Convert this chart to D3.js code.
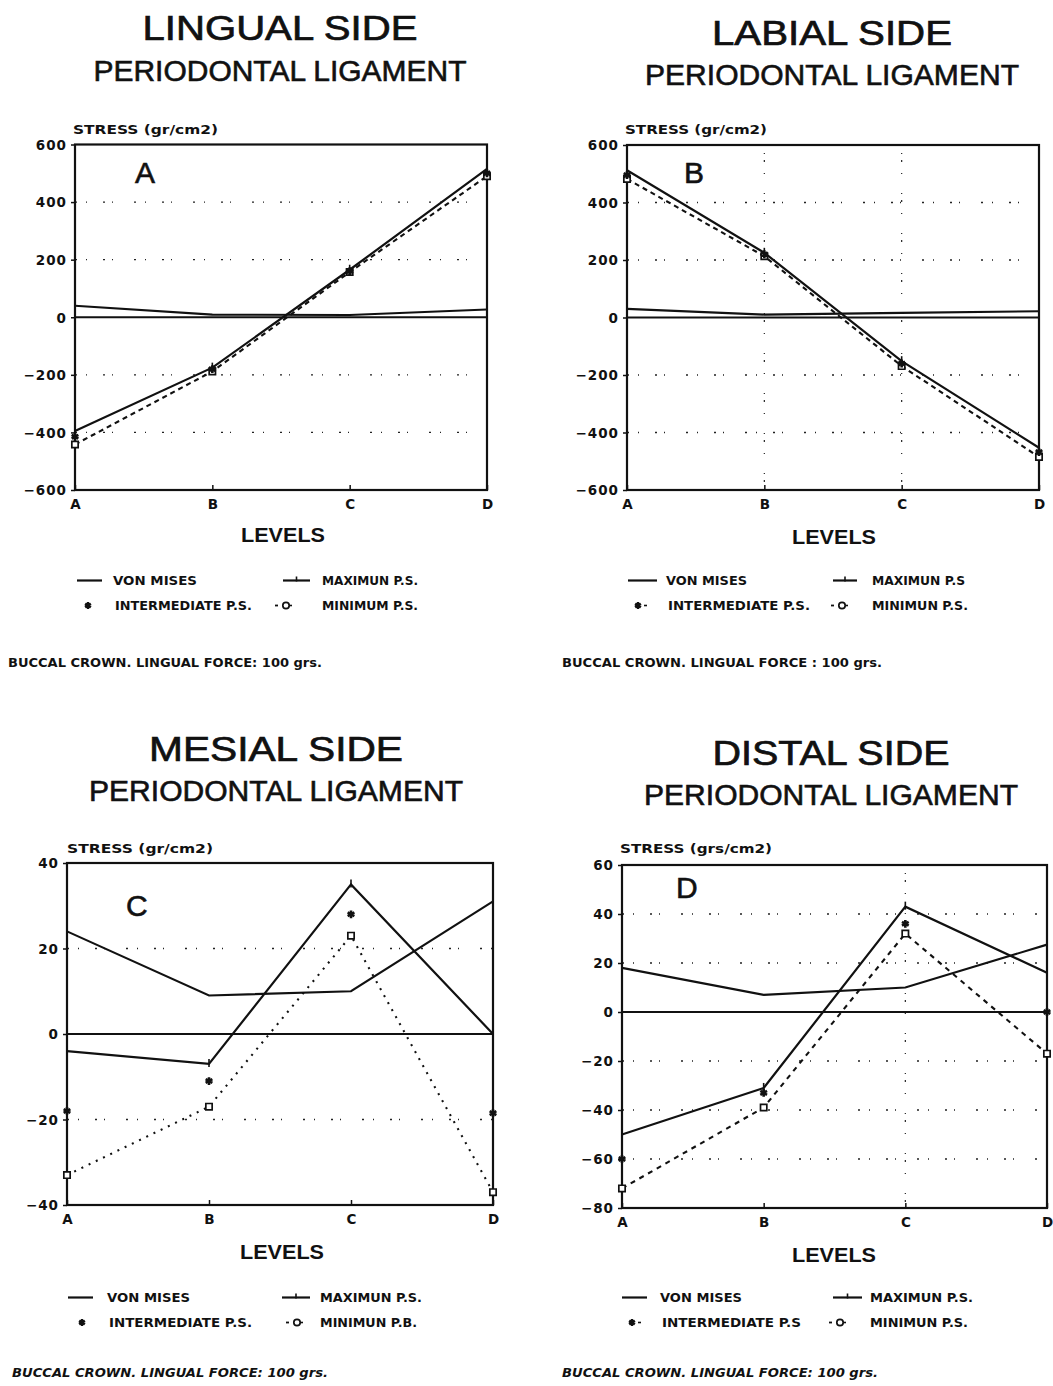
<!DOCTYPE html>
<html>
<head>
<meta charset="utf-8">
<script src="https://cdn.jsdelivr.net/npm/d3@7"></script>
<style>
  html, body { margin: 0; padding: 0; background: #fff; }
  svg { display: block; }
  .small { font-family: "DejaVu Sans", "Liberation Sans", sans-serif; font-weight: bold; fill: #111; }
  .big { font-family: "Liberation Sans", Arial, sans-serif; fill: #111; }
</style>
</head>
<body>
<script>
// Stress in the periodontal ligament at four levels, four tooth sides.
const levels = ["A", "B", "C", "D"];

// Lingual side (gr/cm2)
const lingualVonMises     = [40, 9, 8, 27];
const lingualMaximum      = [-395, -175, 165, 515];
const lingualIntermediate = [-415, -180, 160, 500];
const lingualMinimum      = [-442, -188, 157, 490];
const lingualTicks        = [-600, -400, -200, 0, 200, 400, 600];

// Labial side (gr/cm2)
const labialVonMises     = [30, 10, 16, 22];
const labialMaximum      = [512, 225, -152, -453];
const labialIntermediate = [495, 220, -160, -468];
const labialMinimum      = [482, 213, -169, -485];
const labialTicks        = [-600, -400, -200, 0, 200, 400, 600];

// Mesial side (gr/cm2)
const mesialVonMises     = [24, 9, 10, 31];
const mesialMaximum      = [-4, -7, 35, 0];
const mesialIntermediate = [-18, -11, 28, -18.5];
const mesialMinimum      = [-33, -17, 23, -37];
const mesialTicks        = [-40, -20, 0, 20, 40];

// Distal side (grs/cm2)
const distalVonMises     = [18, 7, 10, 27.5];
const distalMaximum      = [-50, -31, 43, 16];
const distalIntermediate = [-60, -33, 36, 0];
const distalMinimum      = [-72, -39, 32, -17];
const distalTicks        = [-80, -60, -40, -20, 0, 20, 40, 60];

// Text per panel
const panelTitles   = ["LINGUAL SIDE", "LABIAL SIDE", "MESIAL SIDE", "DISTAL SIDE"];
const panelLetters  = ["A", "B", "C", "D"];
const stressLabels  = ["STRESS (gr/cm2)", "STRESS (gr/cm2)", "STRESS (gr/cm2)", "STRESS (grs/cm2)"];
const legendLabels  = [
  ["VON MISES", "MAXIMUN P.S.", "INTERMEDIATE P.S.", "MINIMUM P.S."],
  ["VON MISES", "MAXIMUN P.S", "INTERMEDIATE P.S.", "MINIMUN P.S."],
  ["VON MISES", "MAXIMUN P.S.", "INTERMEDIATE P.S.", "MINIMUN P.B."],
  ["VON MISES", "MAXIMUN P.S.", "INTERMEDIATE P.S", "MINIMUN P.S."]
];
const footnotes = [
  "BUCCAL CROWN. LINGUAL FORCE: 100 grs.",
  "BUCCAL CROWN. LINGUAL FORCE : 100 grs.",
  "BUCCAL CROWN. LINGUAL FORCE: 100 grs.",
  "BUCCAL CROWN. LINGUAL FORCE: 100 grs."
];
const subtitle = "PERIODONTAL LIGAMENT";
const levelsLabel = "LEVELS";

const series = [
  { vm: lingualVonMises, max: lingualMaximum, mid: lingualIntermediate, min: lingualMinimum, ticks: lingualTicks },
  { vm: labialVonMises,  max: labialMaximum,  mid: labialIntermediate,  min: labialMinimum,  ticks: labialTicks },
  { vm: mesialVonMises,  max: mesialMaximum,  mid: mesialIntermediate,  min: mesialMinimum,  ticks: mesialTicks },
  { vm: distalVonMises,  max: distalMaximum,  mid: distalIntermediate,  min: distalMinimum,  ticks: distalTicks }
];

// Layout of each panel on the page
const layouts = [
  { frame: [75, 144.5, 487, 490], tx: 280, ty: 40, tLen: 275, sy: 81, sLen: 373,
    stx: 73, sty: 134, stLen: 145, lx: 135, ly: 183, lvx: 283, lvy: 542,
    fx: 8, fy: 667, fLen: 314, italic: false, vgrid: [], minDash: "5,4",
    leg: { r1: 585, r2: 610, s1: [77, 102], t1: 113, s2: [283, 310], t2: 322, ix: 88, mx: 277, w: [84, 96, 137, 96], midDash: false } },
  { frame: [627, 145, 1039, 490], tx: 832, ty: 45, tLen: 240, sy: 85, sLen: 374,
    stx: 625, sty: 134, stLen: 142, lx: 684, ly: 183, lvx: 834, lvy: 544,
    fx: 562, fy: 667, fLen: 320, italic: false, vgrid: ["B", "C"], minDash: "5,4",
    leg: { r1: 585, r2: 610, s1: [628, 657], t1: 666, s2: [833, 857], t2: 872, ix: 638, mx: 833, w: [81, 93, 142, 96], midDash: true } },
  { frame: [67, 863, 493, 1205], tx: 276, ty: 761, tLen: 254, sy: 801, sLen: 374,
    stx: 67, sty: 853, stLen: 146, lx: 126, ly: 916, lvx: 282, lvy: 1259,
    fx: 12, fy: 1377, fLen: 316, italic: true, vgrid: [], minDash: "2,6",
    leg: { r1: 1302, r2: 1327, s1: [68, 93], t1: 107, s2: [282, 310], t2: 320, ix: 82, mx: 288, w: [83, 102, 143, 97], midDash: false } },
  { frame: [622, 865, 1047, 1208], tx: 831, ty: 765, tLen: 237, sy: 805, sLen: 374,
    stx: 620, sty: 853, stLen: 152, lx: 676, ly: 898, lvx: 834, lvy: 1262,
    fx: 562, fy: 1377, fLen: 316, italic: true, vgrid: ["C"], minDash: "5,5",
    leg: { r1: 1302, r2: 1327, s1: [622, 647], t1: 660, s2: [833, 862], t2: 870, ix: 632, mx: 831, w: [82, 103, 139, 98], midDash: true } }
];

const W = 1053, H = 1386;
const svg = d3.select("body").append("svg")
  .attr("width", W).attr("height", H)
  .attr("viewBox", `0 0 ${W} ${H}`);
svg.append("rect").attr("width", W).attr("height", H).attr("fill", "#fff");

const gridDash = "2,9,1,16,2,7,1,21";

function stretchedText(g, x, y, str, len, cls, size, anchor) {
  return g.append("text")
    .attr("class", cls)
    .attr("x", x).attr("y", y)
    .attr("font-size", size)
    .attr("text-anchor", anchor || "start")
    .attr("textLength", len)
    .attr("lengthAdjust", "spacingAndGlyphs")
    .text(str);
}

series.forEach((s, p) => {
  const L = layouts[p];
  const [x0, y0, x1, y1] = L.frame;
  const g = svg.append("g");

  const x = d3.scalePoint().domain(levels).range([x0, x1]);
  const y = d3.scaleLinear().domain(d3.extent(s.ticks)).range([y1, y0]);

  // Titles
  stretchedText(g, L.tx - L.tLen / 2, L.ty, panelTitles[p], L.tLen, "big", 35)
    .attr("stroke", "#111").attr("stroke-width", 0.7);
  stretchedText(g, L.tx - L.sLen / 2, L.sy, subtitle, L.sLen, "big", 29.5)
    .attr("stroke", "#111").attr("stroke-width", 0.6);

  // Y axis caption
  stretchedText(g, L.stx, L.sty, stressLabels[p], L.stLen, "small", 13);

  // Dotted grid
  s.ticks.filter(t => t !== 0 && t !== s.ticks[0] && t !== s.ticks[s.ticks.length - 1]).forEach(t => {
    g.append("line")
      .attr("x1", x0).attr("x2", x1).attr("y1", y(t)).attr("y2", y(t))
      .attr("stroke", "#222").attr("stroke-width", 1.3)
      .attr("stroke-dasharray", gridDash);
  });
  L.vgrid.forEach(lv => {
    g.append("line")
      .attr("x1", x(lv)).attr("x2", x(lv)).attr("y1", y0 + 8).attr("y2", y1)
      .attr("stroke", "#222").attr("stroke-width", 1.2)
      .attr("stroke-dasharray", "1,6,2,11,1,19");
  });

  // Zero reference line
  g.append("line")
    .attr("x1", x0).attr("x2", x1).attr("y1", y(0)).attr("y2", y(0))
    .attr("stroke", "#111").attr("stroke-width", 1.8);

  // Axes
  const yAxis = g.append("g")
    .attr("transform", `translate(${x0},0)`)
    .call(d3.axisLeft(y).tickValues(s.ticks).tickSize(4).tickPadding(4).tickFormat(d3.format("d")));
  yAxis.select(".domain").remove();
  yAxis.selectAll("line").attr("stroke", "#111").attr("stroke-width", 1.5);
  yAxis.selectAll("text")
    .attr("class", "small").attr("font-size", 13.5)
    .attr("letter-spacing", "1px").attr("dy", "0.36em");

  const xAxis = g.append("g")
    .attr("transform", `translate(0,${y1})`)
    .call(d3.axisBottom(x).tickSizeInner(-5).tickSizeOuter(0).tickPadding(9));
  xAxis.select(".domain").remove();
  xAxis.selectAll("line").attr("stroke", "#111").attr("stroke-width", 1.5);
  xAxis.selectAll("text").attr("class", "small").attr("font-size", 13.5);

  // Frame
  g.append("rect")
    .attr("x", x0).attr("y", y0).attr("width", x1 - x0).attr("height", y1 - y0)
    .attr("fill", "none").attr("stroke", "#111").attr("stroke-width", 2.2);

  // Panel letter
  g.append("text").attr("class", "big").attr("font-size", 30)
    .attr("stroke", "#111").attr("stroke-width", 0.6)
    .attr("x", L.lx).attr("y", L.ly).text(panelLetters[p]);

  const line = d3.line().x((d, i) => x(levels[i])).y(d => y(d));

  // Von Mises
  g.append("path").attr("d", line(s.vm))
    .attr("fill", "none").attr("stroke", "#111").attr("stroke-width", 2.1);
  // Maximum principal stress
  g.append("path").attr("d", line(s.max))
    .attr("fill", "none").attr("stroke", "#111").attr("stroke-width", 2.2);
  g.selectAll(null).data(s.max).join("line")
    .attr("x1", (d, i) => x(levels[i])).attr("x2", (d, i) => x(levels[i]))
    .attr("y1", d => y(d) - 5).attr("y2", d => y(d) + 3)
    .attr("stroke", "#111").attr("stroke-width", 1.6);
  // Minimum principal stress
  g.append("path").attr("d", line(s.min))
    .attr("fill", "none").attr("stroke", "#111").attr("stroke-width", 2.1)
    .attr("stroke-dasharray", L.minDash);
  g.selectAll(null).data(s.min).join("path")
    .attr("transform", (d, i) => `translate(${x(levels[i])},${y(d)})`)
    .attr("d", d3.symbol(d3.symbolSquare, 40)())
    .attr("fill", "#fff").attr("stroke", "#111").attr("stroke-width", 1.7);
  // Intermediate principal stress
  g.selectAll(null).data(s.mid).join("path")
    .attr("transform", (d, i) => `translate(${x(levels[i])},${y(d)})`)
    .attr("d", d3.symbol(d3.symbolAsterisk, 42)())
    .attr("fill", "none").attr("stroke", "#111").attr("stroke-width", 2.6);

  // Levels caption
  g.append("text").attr("class", "big").attr("font-size", 21)
    .attr("x", L.lvx - 42).attr("y", L.lvy)
    .attr("textLength", 84).attr("lengthAdjust", "spacingAndGlyphs")
    .attr("font-weight", "bold")
    .text(levelsLabel);

  // Legend
  const lg = L.leg, labs = legendLabels[p];
  const r1m = lg.r1 - 4.5, r2m = lg.r2 - 4.5;
  g.append("line").attr("x1", lg.s1[0]).attr("x2", lg.s1[1]).attr("y1", r1m).attr("y2", r1m)
    .attr("stroke", "#111").attr("stroke-width", 2.2);
  stretchedText(g, lg.t1, lg.r1, labs[0], lg.w[0], "small", 13);

  g.append("line").attr("x1", lg.s2[0]).attr("x2", lg.s2[1]).attr("y1", r1m).attr("y2", r1m)
    .attr("stroke", "#111").attr("stroke-width", 2.2);
  const mxm = (lg.s2[0] + lg.s2[1]) / 2;
  g.append("line").attr("x1", mxm).attr("x2", mxm).attr("y1", r1m - 4).attr("y2", r1m + 1)
    .attr("stroke", "#111").attr("stroke-width", 1.6);
  stretchedText(g, lg.t2, lg.r1, labs[1], lg.w[1], "small", 13);

  g.append("path").attr("transform", `translate(${lg.ix},${r2m})`)
    .attr("d", d3.symbol(d3.symbolAsterisk, 32)())
    .attr("fill", "none").attr("stroke", "#111").attr("stroke-width", 2.5);
  if (lg.midDash) {
    g.append("line").attr("x1", lg.ix + 6).attr("x2", lg.ix + 9).attr("y1", r2m).attr("y2", r2m)
      .attr("stroke", "#111").attr("stroke-width", 1.6);
  }
  stretchedText(g, lg.t1 + 2, lg.r2, labs[2], lg.w[2], "small", 13);

  g.append("line").attr("x1", lg.mx - 2).attr("x2", lg.mx + 1).attr("y1", r2m).attr("y2", r2m)
    .attr("stroke", "#111").attr("stroke-width", 1.8);
  g.append("circle").attr("cx", lg.mx + 9).attr("cy", r2m).attr("r", 3.2)
    .attr("fill", "#fff").attr("stroke", "#111").attr("stroke-width", 1.7);
  g.append("line").attr("x1", lg.mx + 12).attr("x2", lg.mx + 15).attr("y1", r2m).attr("y2", r2m)
    .attr("stroke", "#111").attr("stroke-width", 1.6);
  stretchedText(g, lg.t2, lg.r2, labs[3], lg.w[3], "small", 13);

  // Footnote
  const f = stretchedText(g, L.fx, L.fy, footnotes[p], L.fLen, "small", 12);
  if (L.italic) f.attr("font-style", "italic");
});
</script>
</body>
</html>
